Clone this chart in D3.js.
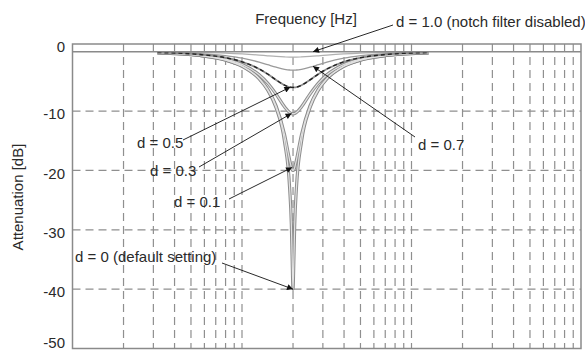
<!DOCTYPE html>
<html>
<head>
<meta charset="utf-8">
<script src="https://cdn.jsdelivr.net/npm/d3@7"></script>
<style>
  html, body { margin: 0; padding: 0; background: #fff; }
  svg text { font-family: "Liberation Sans", Arial, Helvetica, sans-serif; fill: #2a2a2a; }
</style>
</head>
<body>
<svg id="chart" width="585" height="354"></svg>
<script>
// ---- data ----
const freqs = [317, 563.7, 796.2, 1002.4, 1261.9, 1415.9, 1588.7, 1782.5, 1910, 1954.5, 1977.1, 2000,
               2023.2, 2046.6, 2094.3, 2244, 2517.8, 2825, 3169.8, 3990.5, 5023.8, 7096.3, 12619];
const dLabels = ["d = 0", "d = 0.1", "d = 0.3", "d = 0.5", "d = 0.7", "d = 0.9"];
const att_d0  = [-0.19, -0.64, -1.39, -2.45, -4.56, -6.44, -9.46, -15.16, -23.0, -29.0, -35.0, -40,
                 -35.0, -29.0, -23.0, -15.16, -9.46, -6.44, -4.56, -2.45, -1.39, -0.64, -0.19];
const att_d01 = [-0.19, -0.63, -1.38, -2.42, -4.48, -6.29, -9.13, -13.96, -18.25, -19.49, -19.87, -20.0,
                 -19.87, -19.49, -18.25, -13.96, -9.13, -6.29, -4.48, -2.42, -1.38, -0.63, -0.19];
const att_d03 = [-0.17, -0.58, -1.25, -2.16, -3.89, -5.28, -7.14, -9.29, -10.24, -10.40, -10.44, -10.46,
                 -10.44, -10.40, -10.24, -9.29, -7.14, -5.28, -3.89, -2.16, -1.25, -0.58, -0.17];
const att_d05 = [-0.14, -0.47, -1.00, -1.70, -2.90, -3.76, -4.75, -5.64, -5.96, -6.00, -6.01, -6.02,
                 -6.01, -6.00, -5.96, -5.64, -4.75, -3.76, -2.90, -1.70, -1.00, -0.47, -0.14];
const att_d07 = [-0.10, -0.31, -0.66, -1.08, -1.75, -2.18, -2.61, -2.96, -3.08, -3.09, -3.10, -3.10,
                 -3.10, -3.09, -3.08, -2.96, -2.61, -2.18, -1.75, -1.08, -0.66, -0.31, -0.10];
const att_d09 = [-0.035, -0.11, -0.23, -0.37, -0.57, -0.69, -0.80, -0.88, -0.91, -0.91, -0.915, -0.915,
                 -0.915, -0.91, -0.91, -0.88, -0.80, -0.69, -0.57, -0.37, -0.23, -0.11, -0.035];
const flatFreqs = [100, 100000];
const att_d10   = [0, 0];
const yTicks = [0, -10, -20, -30, -40, -50];
const yGrid  = [-10, -20, -30, -40];
const xGrid  = [200, 300, 400, 500, 600, 700, 800, 900, 1000,
                2000, 3000, 4000, 5000, 6000, 7000, 8000, 9000, 10000,
                20000, 30000, 40000, 50000, 60000, 70000, 80000, 90000];
// annotations: label, text anchor point, arrow start, arrow tip [freq, dB]
const notes = [
  { text: "d = 1.0 (notch filter disabled)", tx: 396, ty: 27, sx: 393, sy: 25, tip: [2624, 0] },
  { text: "d = 0.7", tx: 418, ty: 150, sx: 415, sy: 137, tip: [2624, -2.45] },
  { text: "d = 0.5", tx: 137, ty: 148, sx: 183, sy: 140, tip: [1930, -5.96] },
  { text: "d = 0.3", tx: 150, ty: 176, sx: 199, sy: 167, tip: [1960, -10.4] },
  { text: "d = 0.1", tx: 174, ty: 207, sx: 229, sy: 199, tip: [1975, -19.5] },
  { text: "d = 0 (default setting)", tx: 75, ty: 262, sx: 222, sy: 263, tip: [2000, -40] }
];

// ---- layout ----
const svg = d3.select("#chart");
const mLeft = 72.5, mRight = 581, mTop = 44, mBottom = 348.5;
const x = d3.scaleLog().domain([100, 100000]).range([mLeft, mRight]);
const y = d3.scaleLinear().domain([-50, 1.3]).range([mBottom, mTop]);

// grid
svg.append("g").selectAll("line").data(yGrid).join("line")
  .attr("x1", mLeft).attr("x2", mRight).attr("y1", d => y(d)).attr("y2", d => y(d))
  .attr("stroke", "#8f8f8f").attr("stroke-width", 1.2).attr("stroke-dasharray", "8,5");
svg.append("g").selectAll("line").data(xGrid).join("line")
  .attr("x1", d => x(d)).attr("x2", d => x(d)).attr("y1", mTop).attr("y2", mBottom)
  .attr("stroke", "#8f8f8f").attr("stroke-width", 1.2).attr("stroke-dasharray", "8,5");

// frame
svg.append("rect").attr("x", mLeft).attr("y", mTop).attr("width", mRight - mLeft).attr("height", mBottom - mTop)
  .attr("fill", "none").attr("stroke", "#8a8a8a").attr("stroke-width", 1.5);

// y axis labels
svg.append("g").selectAll("text").data(yTicks).join("text")
  .attr("x", 65).attr("y", d => (d === 0 ? mTop + 3 : d === -50 ? y(d) - 6 : y(d) + 3))
  .attr("dy", "0.35em").attr("text-anchor", "end").attr("font-size", 15).text(d => d);

// axis titles
svg.append("text").attr("transform", "translate(23,197) rotate(-90)")
  .attr("text-anchor", "middle").attr("font-size", 15).text("Attenuation [dB]");
svg.append("text").attr("x", 306).attr("y", 24).attr("text-anchor", "middle")
  .attr("font-size", 15).text("Frequency [Hz]");

// curves
const line = d3.line().x(d => x(d[0])).y(d => y(d[1])).curve(d3.curveMonotoneX);
const pts = v => freqs.map((f, i) => [f, v[i]]);
function draw(v, stroke, width, dash) {
  const p = svg.append("path").datum(pts(v)).attr("fill", "none")
    .attr("stroke", stroke).attr("stroke-width", width).attr("d", line);
  if (dash) p.attr("stroke-dasharray", dash);
}
// thin single gray curves
draw(att_d09, "#b0b0b0", 1.2);
draw(att_d07, "#9a9a9a", 1.3);
// outlined (double-line) curves
[att_d03, att_d01, att_d0].forEach(v => draw(v, "#8c8c8c", 3.2));
[att_d03, att_d01, att_d0].forEach(v => draw(v, "#e2e2e2", 1.2));
// d = 0.5 : gray with dark dashes
draw(att_d05, "#8c8c8c", 1.8);
draw(att_d05, "#222", 1.4, "4,3");
// d = 1.0 flat line
svg.append("path").datum(flatFreqs.map((f, i) => [f, att_d10[i]]))
  .attr("fill", "none").attr("stroke", "#8a8a8a").attr("stroke-width", 1.5).attr("d", line);

// annotations
const defs = svg.append("defs");
defs.append("marker").attr("id", "ah").attr("viewBox", "0 0 10 10").attr("refX", 10).attr("refY", 5)
  .attr("markerWidth", 9).attr("markerHeight", 6).attr("markerUnits", "userSpaceOnUse")
  .attr("orient", "auto").append("path").attr("d", "M0,0L10,5L0,10Z").attr("fill", "#111");
notes.forEach(n => {
  svg.append("line").attr("x1", n.sx).attr("y1", n.sy)
    .attr("x2", x(n.tip[0])).attr("y2", y(n.tip[1]))
    .attr("stroke", "#111").attr("stroke-width", 0.9).attr("marker-end", "url(#ah)");
  svg.append("text").attr("x", n.tx).attr("y", n.ty).attr("font-size", 15).text(n.text);
});
</script>
</body>
</html>
